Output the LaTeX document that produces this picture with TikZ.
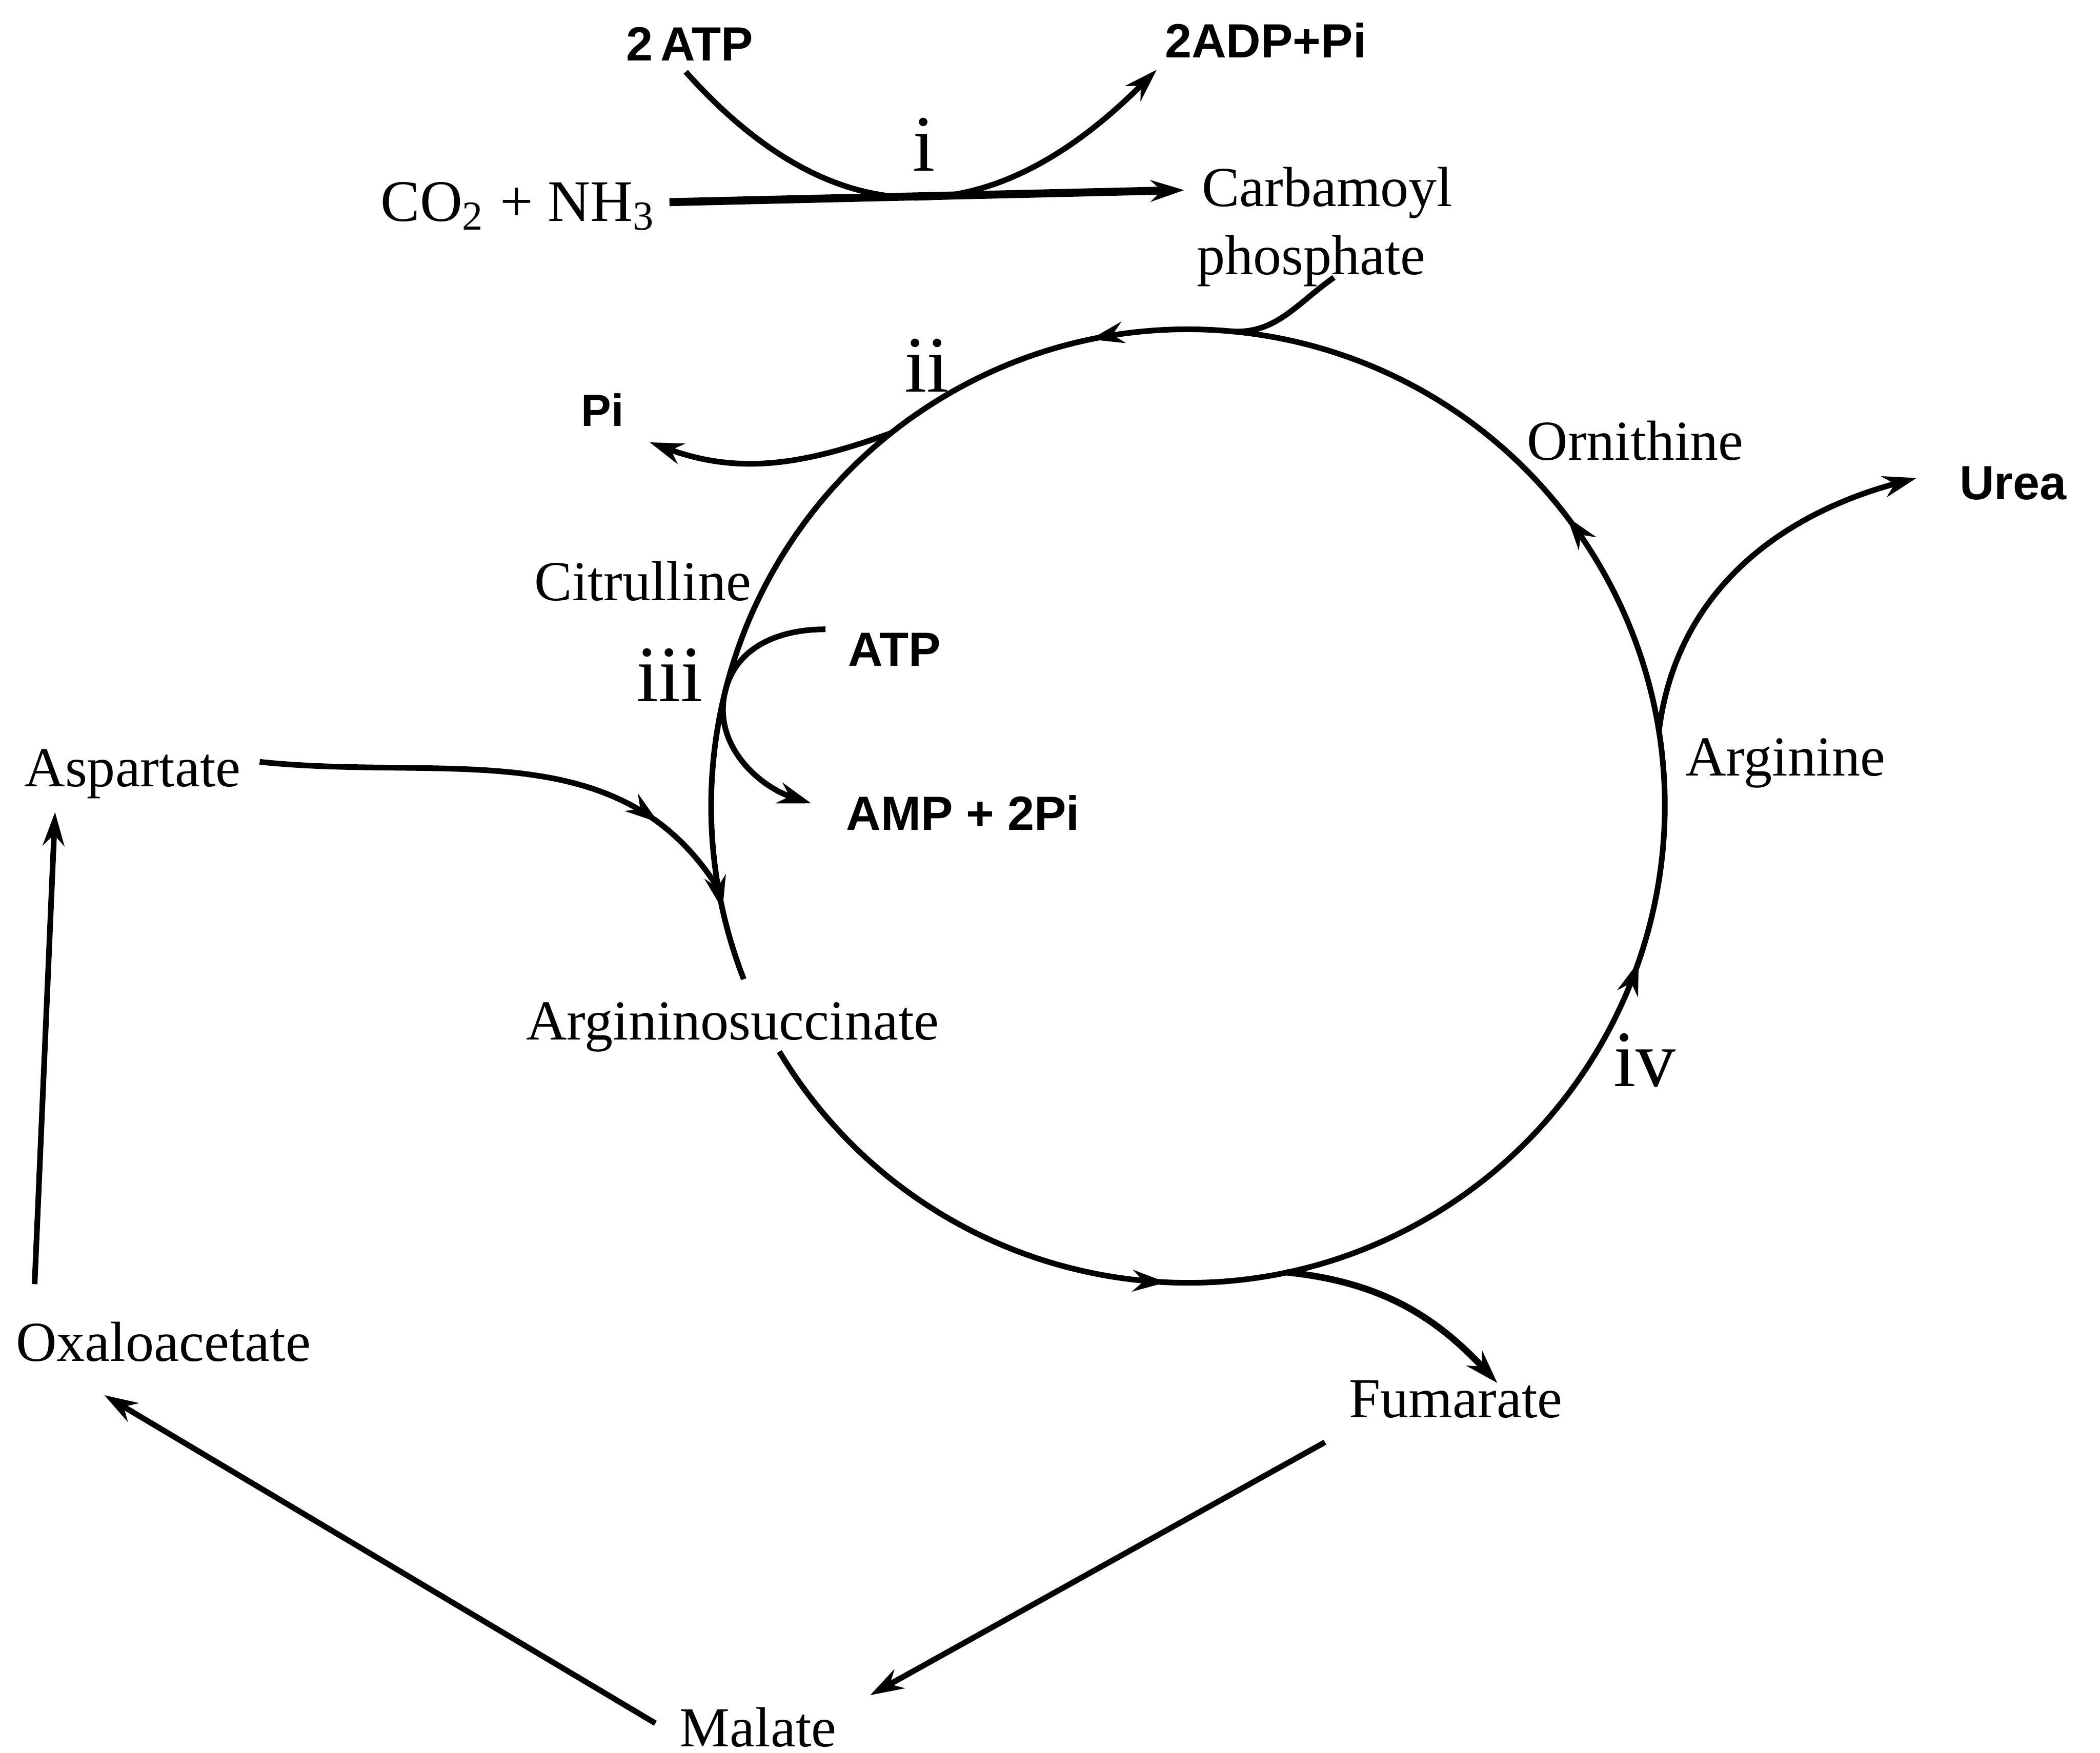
\documentclass[tikz,border=0pt]{standalone}
\usepackage{fontspec}
\setmainfont{Liberation Serif}
\setsansfont{Liberation Sans}
\usepackage{tikz}
\usetikzlibrary{arrows.meta,positioning,calc,decorations.markings}
\tikzset{>={Stealth[length=2.5mm,width=1.6mm]}}
\tikzset{
  metab/.style={inner sep=0pt,font=\fontsize{12}{14}\selectfont},
  cofac/.style={inner sep=0pt,font=\sffamily\bfseries\fontsize{10.2}{12}\selectfont},
  enz/.style={inner sep=0pt,font=\fontsize{17}{20}\selectfont},
  flow/.style={->},
  midarrow/.style={postaction={decorate},
    decoration={markings,mark=at position #1 with {\arrow{>}}}},
}

\begin{document}
\begin{tikzpicture}[line width=1.2pt]
    \useasboundingbox (0,0) rectangle (15.68,-13.09);

    % carbamoyl phosphate synthesis (step i)
    \node[cofac] (atp2) at (5.15,-0.33) {2\,ATP};
    \node[cofac] (adp) at (9.45,-0.30) {2ADP+Pi};
    \node[enz] (s1) at (6.90,-1.08) {i};
    \node[metab,font=\fontsize{12.5}{14}\selectfont] (co2) at (3.87,-1.54) {CO\textsubscript{2} + NH\textsubscript{3}};
    \node[metab] (carb) at (9.91,-1.44) {Carbamoyl};
    \node[metab] (phos) at (9.79,-1.95) {phosphate};

    \draw[flow,line width=1.7pt] ([xshift=0.8mm,yshift=0.3mm]co2.east) -- ([xshift=-1.1mm,yshift=0.2mm]carb.west);
    \draw[flow] ([xshift=-0.3mm,yshift=-0.6mm]atp2.south) .. controls (6.23,-1.78) and (7.39,-1.77) .. ([xshift=-0.4mm,yshift=-0.7mm]adp.south west);

    % cycle intermediates
    \node[enz] (s2) at (6.92,-2.73) {ii};
    \node[cofac,font=\sffamily\bfseries\fontsize{9.6}{11}\selectfont] (pi) at (4.50,-3.06) {Pi};
    \node[metab] (orn) at (12.21,-3.29) {Ornithine};
    \node[cofac] (urea) at (15.03,-3.61) {Urea};
    \node[metab] (cit) at (4.80,-4.34) {Citrulline};
    \node[cofac] (atp) at (6.68,-4.85) {ATP};
    \node[enz] (s3) at (5.00,-5.04) {iii};
    \node[metab] (asp) at (0.99,-5.78) {Aspartate};
    \node[cofac] (amp) at (7.19,-6.07) {AMP + 2Pi};
    \node[metab] (arg) at (13.33,-5.70) {Arginine};
    \node[metab] (argsuc) at (5.47,-7.67) {Argininosuccinate};
    \node[enz] (s4) at (12.28,-7.92) {iv};
    \node[metab] (oxa) at (1.22,-10.02) {Oxaloacetate};
    \node[metab] (fum) at (10.87,-10.45) {Fumarate};
    \node[metab] (mal) at (5.66,-12.90) {Malate};

    % the cycle itself, open at argininosuccinate
    \coordinate (c) at (8.87,-6.02);
    \draw[postaction={decorate},decoration={markings,
        mark=at position 0.161 with {\arrow{>}},
        mark=at position 0.371 with {\arrow{>}},
        mark=at position 0.532 with {\arrow{>}},
        mark=at position 0.716 with {\arrow{>}},
        mark=at position 0.975 with {\arrow{>}}}]
      ($(c)+(211:3.56)$) arc[start angle=211,end angle=561.3,radius=3.56];

    \coordinate (jcarb) at ($(c)+(85:3.56)$);
    \coordinate (jpi) at ($(c)+(128.5:3.56)$);
    \coordinate (jatp) at ($(c)+(166:3.56)$);
    \coordinate (jasp) at ($(c)+(190:3.56)$);
    \coordinate (jurea) at ($(c)+(9:3.56)$);
    \coordinate (jfum) at ($(c)+(282:3.56)$);

    % side reactions on the cycle
    \draw ([xshift=1.7mm,yshift=0.9mm]phos.south) to[out=215,in=-5] (jcarb);
    \draw[flow] (jpi) to[out=200,in=-20] ([xshift=1.7mm,yshift=-1mm]pi.south east);
    \draw[flow] ([xshift=-1.5mm,yshift=1.5mm]atp.west) to[out=180,in=76] (jatp)
      to[out=-104,in=162] ([xshift=-2.4mm,yshift=0.7mm]amp.west);
    \draw[midarrow=0.82] ([xshift=1.2mm,yshift=0.9mm]asp.east) to[out=-6,in=122] (jasp);
    \draw[flow] (jurea) to[out=83,in=195] ([xshift=-3mm,yshift=0.4mm]urea.west);
    \draw[flow,line width=1.4pt] (jfum) to[out=-6,in=133] ([xshift=3.1mm,yshift=-0.4mm]fum.north);

    % fumarate back to aspartate
    \draw[flow] ([xshift=-1.6mm,yshift=-1.6mm]fum.south west) -- ([xshift=2.3mm,yshift=0.7mm]mal.north east);
    \draw[flow] ([xshift=-1.6mm,yshift=0.3mm]mal.west) -- ([xshift=6.8mm,yshift=-2.3mm]oxa.south west);
    \draw[flow] ([xshift=1.6mm,yshift=2.6mm]oxa.north west) -- ([xshift=2.5mm,yshift=-0.8mm]asp.south west);
\end{tikzpicture}
\end{document}
